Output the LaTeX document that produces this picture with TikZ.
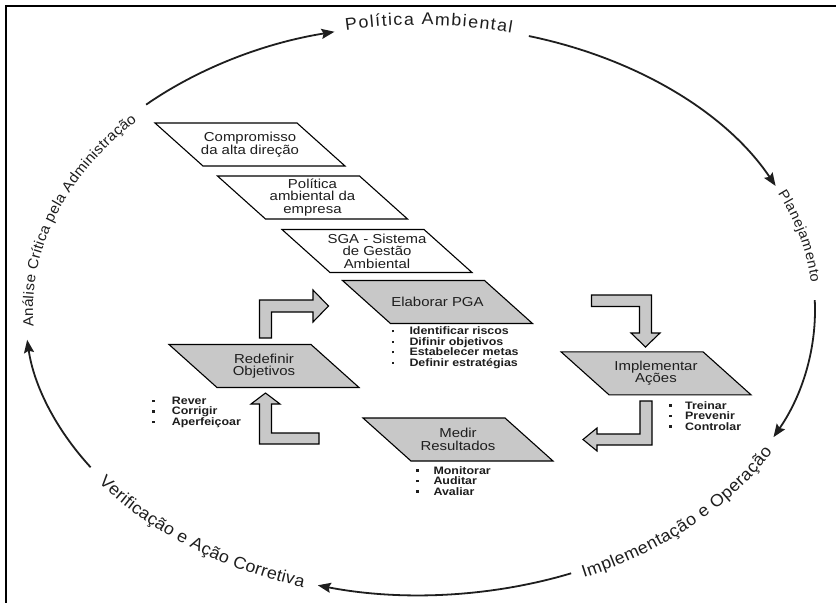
\documentclass[tikz,border=0pt]{standalone}
\usepackage{fontspec}
\setmainfont{Liberation Sans}
\newfontfamily\labfont[FakeStretch=1.15]{Liberation Sans}
\newfontfamily\ringfam[FakeStretch=1.05]{Liberation Sans}
\usetikzlibrary{decorations.text,arrows.meta}
\definecolor{boxgray}{RGB}{200,200,200}
\definecolor{ink}{RGB}{30,30,30}
\newcommand\ringfont{\ringfam\fontsize{17}{20}\selectfont}
\newcommand\ringfontsm{\ringfam\fontsize{14.5}{17}\selectfont}
\newcommand\ringfontxs{\ringfam\fontsize{14}{17}\selectfont}
\newcommand\boxfont{\labfont\fontsize{13}{12.4}\selectfont}
\newcommand\listfont{\labfont\bfseries\fontsize{10.8}{10.5}\selectfont}
\newcommand\blt[1]{\makebox[#1][l]{\rule[2.4pt]{2.3pt}{2.3pt}}}
% a slanted step: #1 style, #2 name, #3/#4 centre, #5 label
\newcommand\slab[5]{%
  \draw[#1] (#3-95,#4+21.5) -- (#3+47,#4+21.5) -- (#3+95,#4-21.5) -- (#3-47,#4-21.5) -- cycle;
  \node[steplabel] (#2) at (#3,#4) {#5};}
\begin{document}
\begin{tikzpicture}[x=1pt,y=1pt,
  ring/.style={line width=1.8pt, draw=ink, -{Stealth[length=13pt,width=10pt,inset=2pt]}},
  ringtext/.style={decorate, decoration={text along path, text align={fit to path}, text color=ink}},
  pwhite/.style={fill=white, draw=black, line width=1.1pt, line join=miter},
  pgray/.style={fill=boxgray, draw=black, line width=1.1pt, line join=miter},
  steplabel/.style={inner sep=0pt, align=center, font=\boxfont, text=ink},
  blockarrow/.style={fill=boxgray, draw=black, line width=1.1pt, line join=miter},
  bullets/.style={anchor=north west, inner sep=0pt, align=left, font=\listfont, text=ink}]
\useasboundingbox (0,0) rectangle (836,-603);
\fill[white] (0,0) rectangle (836,-603);
% frame
\draw[line width=2.2pt] (836,-5.8) -- (6,-5.8) -- (6,-603);

% outer cycle
\begin{scope}[shift={(420,-310)}]
  \coordinate (r1) at (133.9:395 and 285);
  \coordinate (r2) at (74:395 and 285);
  \coordinate (r3) at (2:395 and 285);
  \coordinate (r4) at (-67.5:395 and 285);
  \coordinate (r5) at (-146.5:395 and 285);
  \draw[ring] (r1) arc[start angle=133.9, end angle=102.5, x radius=395, y radius=285];
  \draw[ring] (r2) arc[start angle=74, end angle=25.8, x radius=395, y radius=285];
  \draw[ring] (r3) arc[start angle=2, end angle=-26.5, x radius=395, y radius=285];
  \draw[ring] (r4) arc[start angle=-67.5, end angle=-105, x radius=395, y radius=285];
  \draw[ring] (r5) arc[start angle=-146.5, end angle=-174, x radius=395, y radius=285];

  \path[ringtext, decoration={text={|\ringfont|Política Ambiental}}]
    (100.8:395 and 285) arc[start angle=100.8, end angle=76.6, x radius=395, y radius=285];
  \path[ringtext, decoration={text={|\ringfontxs|Planejamento}}]
    (24.4:393 and 283) arc[start angle=24.4, end angle=5.5, x radius=393, y radius=283];
  \path[ringtext, decoration={text={|\ringfont|Implementação e Operação}}]
    (-66:403 and 293) arc[start angle=-66, end angle=-29, x radius=403, y radius=293];
  \path[ringtext, decoration={text={|\ringfont|Verificação e Ação Corretiva}}]
    (-143.5:400 and 290) arc[start angle=-143.5, end angle=-107, x radius=400, y radius=290];
  \path[ringtext, decoration={text={|\ringfontsm|Análise Crítica pela Administração}}]
    (183.5:387 and 277) arc[start angle=183.5, end angle=137, x radius=387, y radius=277];
\end{scope}

% stacked white steps
\slab{pwhite}{compromisso}{250}{-144.5}{Compromisso\\da alta direção}
\slab{pwhite}{politica}{312.5}{-197.5}{Política\\ambiental da\\empresa}
\slab{pwhite}{sga}{377}{-251}{SGA - Sistema\\de Gestão\\Ambiental}

% inner loop
\slab{pgray}{elaborar}{437.5}{-302}{Elaborar PGA}
\slab{pgray}{implementar}{656}{-373.3}{Implementar\\Ações}
\slab{pgray}{medir}{458}{-439.5}{Medir\\Resultados}
\slab{pgray}{redefinir}{264}{-366}{Redefinir\\Objetivos}

% block arrows of the loop
\draw[blockarrow] (259.5,-338) -- (259.5,-300) -- (313,-300) -- (313,-290) -- (328.5,-306)
  -- (313,-322) -- (313,-312) -- (271.5,-312) -- (271.5,-338) -- cycle;
\draw[blockarrow] (591.5,-295) -- (651.5,-295) -- (651.5,-333) -- (660,-333) -- (645.5,-347)
  -- (631,-333) -- (639.5,-333) -- (639.5,-306.5) -- (591.5,-306.5) -- cycle;
\draw[blockarrow] (640,-401) -- (652,-401) -- (652,-445) -- (597,-445) -- (597,-451)
  -- (583,-439.5) -- (597,-428) -- (597,-434) -- (640,-434) -- cycle;
\draw[blockarrow] (259.5,-444) -- (259.5,-404) -- (251,-404) -- (265.5,-393) -- (280,-404)
  -- (271.5,-404) -- (271.5,-433) -- (319,-433) -- (319,-444) -- cycle;

% bullet lists
\node[bullets] (elablist) at (391.5,-326.8)
  {\blt{17.8pt}Identificar riscos\\\blt{17.8pt}Difinir objetivos\\\blt{17.8pt}Estabelecer metas\\\blt{17.8pt}Definir estratégias};
\node[bullets] (implist) at (669,-401.1)
  {\blt{16pt}Treinar\\\blt{16pt}Prevenir\\\blt{16pt}Controlar};
\node[bullets] (medlist) at (416,-466)
  {\blt{17.3pt}Monitorar\\\blt{17.3pt}Auditar\\\blt{17.3pt}Avaliar};
\node[bullets] (redlist) at (152,-396.8)
  {\blt{19.7pt}Rever\\\blt{19.7pt}Corrigir\\\blt{19.7pt}Aperfeiçoar};
\end{tikzpicture}
\end{document}
